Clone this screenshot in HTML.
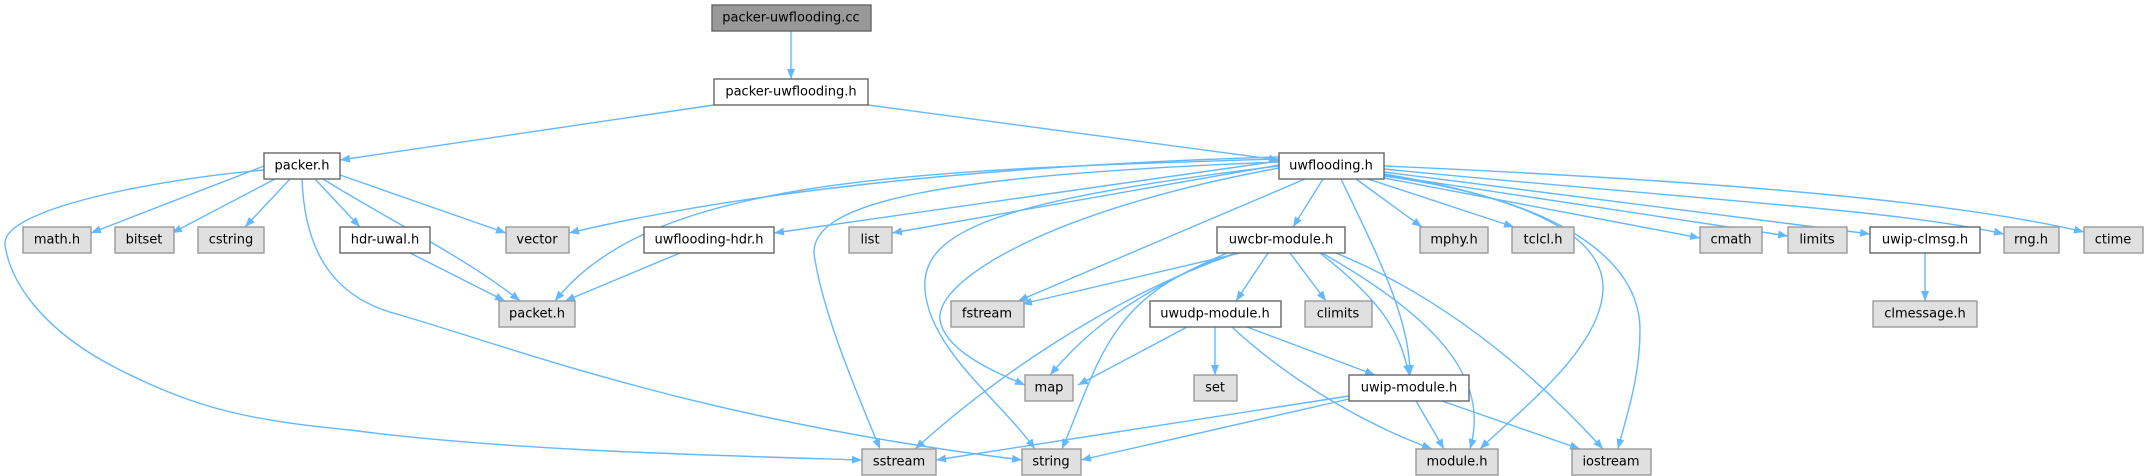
<!DOCTYPE html>
<html><head><meta charset="utf-8"><style>
html,body{margin:0;padding:0;background:#fff;}
svg{display:block;}
text{font-family:"DejaVu Sans","Liberation Sans",sans-serif;font-size:13px;fill:#000;text-anchor:middle;dominant-baseline:central;}
.n rect{stroke:#666;stroke-width:1.4;}
.w{fill:#fff;}
.g{fill:#e0e0e0;stroke:#999 !important;}
.e{fill:none;stroke:#63b8ff;stroke-width:1.4;}
</style></head><body>
<svg width="2148" height="476" viewBox="0 0 2148 476" xmlns="http://www.w3.org/2000/svg">
<defs><marker id="a" viewBox="0 0 10 8" refX="10" refY="4" markerWidth="10" markerHeight="8" markerUnits="userSpaceOnUse" orient="auto"><path d="M0,0 L10,4 L0,8 z" fill="#63b8ff"/></marker></defs>
<g class="e" marker-end="url(#a)">
<path d="M791,31 L791,79"/>
<path d="M714,105 L340,160"/>
<path d="M868,105 L1279,160"/>
<path d="M264,166 L91,233"/>
<path d="M275,179 L172,233"/>
<path d="M290,179 L245,227"/>
<path d="M315,179 L360,227"/>
<path d="M340,175 L506,233"/>
<path d="M323,179 C380,215 470,260 520,301"/>
<path d="M410,253 L505,301"/>
<path d="M680,253 L565,301"/>
<path d="M264,170 C150,180 0,210 5,245 C10,280 40,330 120,370 C200,410 250,420 350,430 C500,450 700,455 862,460"/>
<path d="M302,179 C305,260 340,300 400,315 C520,350 700,420 1022,460"/>
<path d="M1279,157 C1000,165 750,190 569,233"/>
<path d="M1279,159 C900,170 650,180 555,301"/>
<path d="M1279,161 L774,233"/>
<path d="M1279,165 L892,233"/>
<path d="M1279,162 C950,175 800,200 815,260 C825,320 860,400 880,449"/>
<path d="M1279,166 C1000,200 920,230 925,290 C930,350 1000,400 1035,449"/>
<path d="M1279,168 C1050,210 935,280 940,320 C945,350 990,370 1025,385"/>
<path d="M1305,179 L1018,301"/>
<path d="M1323,179 L1293,227"/>
<path d="M1356,179 L1422,227"/>
<path d="M1368,179 L1514,227"/>
<path d="M1384,178 L1700,238"/>
<path d="M1384,175 L1788,236"/>
<path d="M1384,172 L1870,234"/>
<path d="M1384,169 C1700,200 1900,210 2004,234"/>
<path d="M1384,166 C1700,180 1950,200 2084,232"/>
<path d="M1384,174 C1540,200 1605,240 1603,290 C1600,350 1520,410 1480,449"/>
<path d="M1384,176 C1560,200 1640,260 1640,330 C1640,380 1625,420 1618,449"/>
<path d="M1341,179 C1380,260 1410,320 1410,375"/>
<path d="M1240,253 L1022,304"/>
<path d="M1237,253 C1100,300 980,390 915,449"/>
<path d="M1237,253 C1110,290 1100,360 1062,449"/>
<path d="M1227,253 C1120,300 1080,340 1050,375"/>
<path d="M1268,253 L1236,301"/>
<path d="M1290,253 L1326,301"/>
<path d="M1320,253 C1380,300 1400,330 1409,375"/>
<path d="M1322,253 C1440,320 1490,380 1470,449"/>
<path d="M1336,253 C1450,300 1540,380 1603,449"/>
<path d="M1187,327 L1078,385"/>
<path d="M1215,327 L1215,375"/>
<path d="M1247,327 L1375,375"/>
<path d="M1232,327 C1300,390 1380,430 1432,449"/>
<path d="M1349,396 L936,460"/>
<path d="M1349,399 L1081,460"/>
<path d="M1416,401 L1444,449"/>
<path d="M1442,401 L1580,449"/>
<path d="M1925,253 L1925,301"/>
</g>
<g class="n">
<rect x="712" y="5" width="159" height="26" fill="#999"/><text x="791" y="18">packer-uwflooding.cc</text>
<rect class="w" x="714" y="79" width="154" height="26"/><text x="791" y="92">packer-uwflooding.h</text>
<rect class="w" x="264" y="153" width="76" height="26"/><text x="302" y="166">packer.h</text>
<rect class="w" x="1279" y="153" width="105" height="26"/><text x="1331" y="166">uwflooding.h</text>
<rect class="g" x="23" y="227" width="68" height="26"/><text x="57" y="240">math.h</text>
<rect class="g" x="115" y="227" width="59" height="26"/><text x="144" y="240">bitset</text>
<rect class="g" x="198" y="227" width="66" height="26"/><text x="231" y="240">cstring</text>
<rect class="w" x="340" y="227" width="90" height="26"/><text x="385" y="240">hdr-uwal.h</text>
<rect class="g" x="506" y="227" width="63" height="26"/><text x="537" y="240">vector</text>
<rect class="w" x="644" y="227" width="130" height="26"/><text x="709" y="240">uwflooding-hdr.h</text>
<rect class="g" x="849" y="227" width="43" height="26"/><text x="870" y="240">list</text>
<rect class="w" x="1217" y="227" width="128" height="26"/><text x="1281" y="240">uwcbr-module.h</text>
<rect class="g" x="1420" y="227" width="68" height="26"/><text x="1454" y="240">mphy.h</text>
<rect class="g" x="1512" y="227" width="62" height="26"/><text x="1543" y="240">tclcl.h</text>
<rect class="g" x="1700" y="227" width="62" height="26"/><text x="1731" y="240">cmath</text>
<rect class="g" x="1788" y="227" width="59" height="26"/><text x="1817" y="240">limits</text>
<rect class="w" x="1870" y="227" width="110" height="26"/><text x="1925" y="240">uwip-clmsg.h</text>
<rect class="g" x="2004" y="227" width="55" height="26"/><text x="2031" y="240">rng.h</text>
<rect class="g" x="2084" y="227" width="59" height="26"/><text x="2113" y="240">ctime</text>
<rect class="g" x="499" y="301" width="76" height="26"/><text x="537" y="314">packet.h</text>
<rect class="g" x="951" y="301" width="73" height="26"/><text x="987" y="314">fstream</text>
<rect class="w" x="1150" y="301" width="131" height="26"/><text x="1215" y="314">uwudp-module.h</text>
<rect class="g" x="1305" y="301" width="67" height="26"/><text x="1338" y="314">climits</text>
<rect class="g" x="1873" y="301" width="104" height="26"/><text x="1925" y="314">clmessage.h</text>
<rect class="g" x="1025" y="375" width="48" height="26"/><text x="1049" y="388">map</text>
<rect class="g" x="1194" y="375" width="43" height="26"/><text x="1215" y="388">set</text>
<rect class="w" x="1349" y="375" width="120" height="26"/><text x="1409" y="388">uwip-module.h</text>
<rect class="g" x="862" y="449" width="74" height="26"/><text x="899" y="462">sstream</text>
<rect class="g" x="1022" y="449" width="59" height="26"/><text x="1051" y="462">string</text>
<rect class="g" x="1416" y="449" width="82" height="26"/><text x="1457" y="462">module.h</text>
<rect class="g" x="1572" y="449" width="79" height="26"/><text x="1611" y="462">iostream</text>
</g>
</svg>
</body></html>
